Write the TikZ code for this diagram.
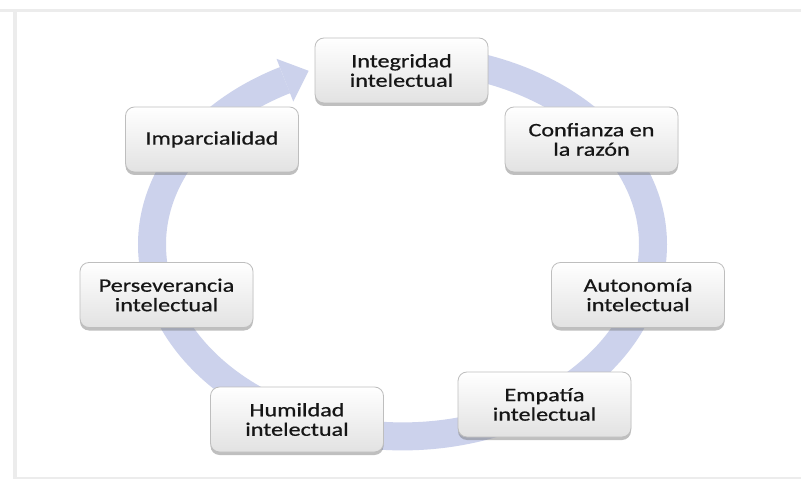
\documentclass[tikz,border=0pt]{standalone}
\usepackage{fontspec}
\setmainfont{Carlito}[UprightFeatures={FakeBold=0.6}]
\usetikzlibrary{shadows}
\definecolor{ringcol}{RGB}{204,210,236}
\definecolor{framegray}{RGB}{236,236,236}
\definecolor{boxline}{RGB}{190,190,190}
\definecolor{boxbot}{RGB}{226,226,226}
\definecolor{txtcol}{RGB}{22,22,22}
\newcommand{\hstretch}[1]{\scalebox{1.27}[1]{#1}}
\begin{document}
\begin{tikzpicture}[x=1pt,y=1pt,
  cbox/.style={rectangle, rounded corners=9pt, minimum width=173pt, minimum height=65pt,
    draw=boxline, line width=0.8pt, top color=white, bottom color=boxbot,
    drop shadow={shadow xshift=0pt, shadow yshift=-3pt, opacity=0.45, fill=black!55},
    align=center, font=\fontsize{19}{19.5}\selectfont, text=txtcol, inner sep=0pt},
  ring/.style={draw=ringcol, line width=28pt}]
\useasboundingbox (0,0) rectangle (801,480);
\fill[white] (0,0) rectangle (801,480);
% frame
\fill[framegray] (0,468) rectangle (801,470.5);
\fill[framegray] (13,1) rectangle (17,468);
\fill[framegray] (17,1.2) rectangle (801,3);
% ring arrow
\coordinate (C) at (402.5,235.6);
\draw[ring] ([shift={(80:250.5 and 186)}]C)
  arc[start angle=80, end angle=0, x radius=250.5, y radius=186]
  arc[start angle=0, end angle=-180, x radius=250.5, y radius=192]
  arc[start angle=180, end angle=118, x radius=250.5, y radius=186];
\coordinate (hb1) at (276.5,421.2);
\coordinate (hb2) at (293.3,378.4);
\coordinate (htip) at (308.6,409.2);
\fill[ringcol] (hb1) -- (htip) -- (hb2) -- cycle;
% boxes
\node[cbox] (integ) at (401.5,409.5) {\hstretch{Integridad}\\\hstretch{intelectual}};
\node[cbox] (impar) at (212,340.5) {\hstretch{Imparcialidad}};
\node[cbox] (conf) at (591.5,340.5) {\hstretch{Confianza en}\\\hstretch{la razón}};
\node[cbox] (pers) at (166.5,185) {\hstretch{Perseverancia}\\\hstretch{intelectual}};
\node[cbox] (auto) at (638,185) {\hstretch{Autonomía}\\\hstretch{intelectual}};
\node[cbox] (humil) at (297,60.5) {\hstretch{Humildad}\\\hstretch{intelectual}};
\node[cbox] (empat) at (544.5,75.5) {\hstretch{Empatía}\\\hstretch{intelectual}};
\end{tikzpicture}
\end{document}
